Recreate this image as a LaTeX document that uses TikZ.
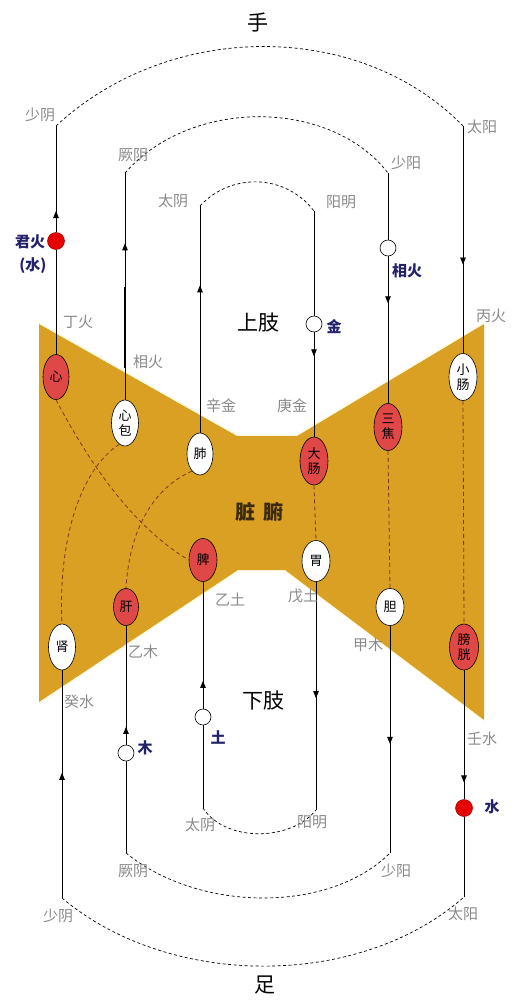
\documentclass[tikz,border=0pt]{standalone}
\usepackage{fontspec}
\setmainfont{Noto Sans CJK SC}
\usetikzlibrary{shapes.geometric,arrows.meta,decorations.markings}
\definecolor{gold}{HTML}{D9A024}
\definecolor{organred}{HTML}{E04848}
\definecolor{dotred}{HTML}{E60000}
\definecolor{navy}{HTML}{23236B}
\definecolor{labgray}{HTML}{8A8A8A}
\definecolor{hilite}{HTML}{FFF6C8}
\definecolor{innerdash}{HTML}{7A3A1A}
\definecolor{zangfu}{HTML}{3A2A10}
\begin{document}
\begin{tikzpicture}[x=1pt,y=-1pt,
  organ/.style={ellipse,draw=black,line width=0.6pt,inner sep=0pt,font=\fontsize{13}{15}\selectfont,align=center},
  redorgan/.style={organ,fill=organred},
  whiteorgan/.style={organ,fill=white},
  junction/.style={circle,draw=black,fill=white,minimum size=16pt,inner sep=0pt,line width=0.6pt},
  reddot/.style={circle,draw=black!40!red,fill=dotred,minimum size=17pt,inner sep=0pt,line width=0.5pt},
  lab/.style={text=labgray,font=\fontsize{15}{15}\selectfont,inner sep=0pt},
  elem/.style={text=navy,font=\fontsize{15}{17}\selectfont\bfseries,inner sep=0pt,align=center},
  bigtitle/.style={font=\fontsize{21}{21}\selectfont,inner sep=0pt},
  meridian/.style={line width=0.8pt},
  flowarrow/.style={postaction={decorate},decoration={markings,mark=at position #1 with {\arrow{Triangle[width=5.5pt,length=7pt]}}}},
  arcdash/.style={line width=0.7pt,dash pattern=on 3pt off 2.5pt},
  innerlink/.style={draw=innerdash,line width=0.8pt,dash pattern=on 4pt off 3pt}
]
\fill[white] (0,0) rectangle (525,1007);
\useasboundingbox (0,0) rectangle (525,1007);

% gold body
\fill[gold] (39,324) -- (237,436) -- (297,436) -- (484,324) -- (484,720) -- (285,570) -- (238,570) -- (39,702) -- cycle;
\draw[hilite,line width=0.8pt] (39,323.2) -- (237,435.2) -- (297,435.2) -- (484,323.2);
\draw[hilite,line width=0.8pt] (39,702.8) -- (238,570.8) -- (285,570.8) -- (484,720.8);

% end coordinates
\coordinate (hSYt) at (56,126);
\coordinate (hJYt) at (125,173);
\coordinate (hTYt) at (200,206);
\coordinate (hYMt) at (314,211);
\coordinate (hSYangt) at (388,173);
\coordinate (hTYangt) at (463,126);
\coordinate (fSYb) at (62,898);
\coordinate (fJYb) at (126,853);
\coordinate (fTYb) at (203,808);
\coordinate (fYMb) at (316,810);
\coordinate (fSYangb) at (390,853);
\coordinate (fTYangb) at (464,897);
\coordinate (jyA) at (125,287);
\coordinate (jyB) at (125,368);

% organs
\node[redorgan,minimum width=26pt,minimum height=45pt] (xin) at (56,377) {心};
\node[whiteorgan,minimum width=27pt,minimum height=46pt] (xinbao) at (125,423) {心\\包};
\node[whiteorgan,minimum width=26pt,minimum height=42pt] (fei) at (200,454) {肺};
\node[redorgan,minimum width=28pt,minimum height=48pt] (dachang) at (314,461) {大\\肠};
\node[redorgan,minimum width=28pt,minimum height=47pt] (sanjiao) at (388,427) {三\\焦};
\node[whiteorgan,minimum width=28pt,minimum height=47pt] (xiaochang) at (463,377) {小\\肠};
\node[redorgan,minimum width=28pt,minimum height=43pt] (pi) at (203,560) {脾};
\node[whiteorgan,minimum width=28pt,minimum height=41pt] (wei) at (316,561) {胃};
\node[redorgan,minimum width=25pt,minimum height=37pt] (gan) at (126,607) {肝};
\node[whiteorgan,minimum width=28pt,minimum height=37pt] (dan) at (390,607) {胆};
\node[whiteorgan,minimum width=27pt,minimum height=46pt] (shen) at (62,647) {肾};
\node[redorgan,minimum width=29pt,minimum height=46pt] (pangguang) at (464,647) {膀\\胱};

% junctions
\node[reddot] (junhuo) at (56,241) {};
\node[reddot] (shui) at (464,808) {};
\node[junction] (jin) at (314,324) {};
\node[junction] (xianghuo) at (388,248) {};
\node[junction] (mu) at (126,753) {};
\node[junction] (tu) at (203,717) {};

% meridians (hand)
\draw[meridian] (xin) -- (junhuo);
\draw[meridian,flowarrow=0.2] (junhuo) -- (hSYt);
\draw[meridian,flowarrow=0.69] (xinbao) -- (hJYt);
\draw[line width=1.8pt] (jyA) -- (jyB);
\draw[meridian,flowarrow=0.65] (fei) -- (hTYt);
\draw[meridian] (hYMt) -- (jin);
\draw[meridian,flowarrow=0.23] (jin) -- (dachang);
\draw[meridian] (hSYangt) -- (xianghuo);
\draw[meridian,flowarrow=0.32] (xianghuo) -- (sanjiao);
\draw[meridian,flowarrow=0.61] (hTYangt) -- (xiaochang);
% meridians (foot)
\draw[meridian,flowarrow=0.55] (fSYb) -- (shen);
\draw[meridian] (fJYb) -- (mu);
\draw[meridian,flowarrow=0.15] (mu) -- (gan);
\draw[meridian] (fTYb) -- (tu);
\draw[meridian,flowarrow=0.22] (tu) -- (pi);
\draw[meridian,flowarrow=0.51] (wei) -- (fYMb);
\draw[meridian,flowarrow=0.52] (dan) -- (fSYangb);
\draw[meridian,flowarrow=0.87] (pangguang) -- (shui);
\draw[meridian] (shui) -- (fTYangb);

% inner links
\draw[innerlink] (xin.south) .. controls (92,468) and (135,528) .. (pi.west);
\draw[innerlink] (xinbao.255) .. controls (80,470) and (58,540) .. (shen.north);
\draw[innerlink] (fei.245) .. controls (160,485) and (130,520) .. (gan.north);
\draw[innerlink] (dachang.south) -- (wei.north);
\draw[innerlink] (sanjiao.south) -- (dan.north);
\draw[innerlink] (xiaochang.south) -- (pangguang.north);

% outer arcs
\draw[arcdash] (hSYt) .. controls (170,20) and (360,20) .. (hTYangt);
\draw[arcdash] (hJYt) .. controls (190,98) and (330,98) .. (hSYangt);
\draw[arcdash] (hTYt) .. controls (230,173) and (285,173) .. (hYMt);
\draw[arcdash] (fTYb) .. controls (225,842) and (290,842) .. (fYMb);
\draw[arcdash] (fJYb) .. controls (200,913) and (330,913) .. (fSYangb);
\draw[arcdash] (fSYb) .. controls (170,989) and (360,989) .. (fTYangb);

% titles
\node[bigtitle] (shou) at (258,22) {手};
\node[bigtitle] (zu) at (265,985) {足};
\node[bigtitle] (shangzhi) at (258,323) {上肢};
\node[bigtitle] (xiazhi) at (263,701) {下肢};
\node[font=\fontsize{20}{20}\selectfont\bfseries,text=zangfu,inner sep=0pt] (zf) at (259,512) {脏\hspace{8pt}腑};

% meridian names
\node[lab] (l1) at (40,115) {少阴};
\node[lab] (l2) at (482,127) {太阳};
\node[lab] (l3) at (133,155) {厥阴};
\node[lab] (l4) at (406,163) {少阳};
\node[lab] (l5) at (173,201) {太阴};
\node[lab] (l6) at (341,202) {阳明};
\node[lab] (l7) at (200,825) {太阴};
\node[lab] (l8) at (312,822) {阳明};
\node[lab] (l9) at (133,871) {厥阴};
\node[lab] (l10) at (396,871) {少阳};
\node[lab] (l11) at (58,916) {少阴};
\node[lab] (l12) at (463,914) {太阳};

% stem labels
\node[lab] (s1) at (78,322) {丁火};
\node[lab] (s2) at (148,362) {相火};
\node[lab] (s3) at (221,406) {辛金};
\node[lab] (s4) at (292,406) {庚金};
\node[lab] (s5) at (491,316) {丙火};
\node[lab] (s6) at (230,600) {乙土};
\node[lab] (s7) at (303,596) {戊土};
\node[lab] (s8) at (143,652) {乙木};
\node[lab] (s9) at (368,645) {甲木};
\node[lab] (s10) at (79,702) {癸水};
\node[lab] (s11) at (482,739) {壬水};

% element labels
\node[elem] (e1) at (30,242) {君火};
\node[elem] (e2) at (33,266) {(水)};
\node[elem] (e3) at (407,271) {相火};
\node[elem] (e4) at (334,327) {金};
\node[elem] (e5) at (145,748) {木};
\node[elem] (e6) at (218,737) {土};
\node[elem] (e7) at (492,807) {水};
\end{tikzpicture}
\end{document}
